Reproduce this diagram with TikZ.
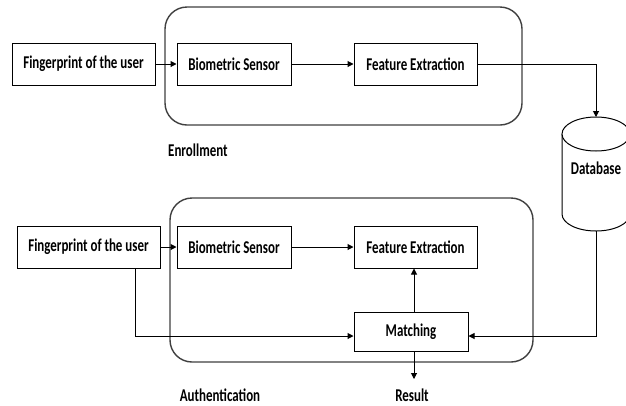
\documentclass[tikz,border=0pt]{standalone}
\usepackage{fontspec}
\usepackage{graphicx}
\setmainfont{Carlito}
\usetikzlibrary{arrows.meta}
\newcommand\lbl[1]{\scalebox{0.72}[1]{\fontsize{18}{20}\selectfont\bfseries #1}}
\tikzset{
  box/.style={draw=black, line width=1pt, minimum height=42pt, inner sep=0pt, fill=white, text=black},
  grp/.style={draw=black!75, line width=1.4pt, rounded corners=22pt},
  arr/.style={line width=1pt, -{Triangle[length=6pt,width=6pt]}},
  ln/.style={line width=1pt},
  txt/.style={inner sep=0pt, text=black}
}
\begin{document}
\begin{tikzpicture}[x=1pt,y=-1pt]
\useasboundingbox[fill=white] (0,0) rectangle (626,405);
% groups
\draw[grp] (165,7) rectangle (522,125);
\draw[grp] (170,198) rectangle (533,362);
% enrollment
\node[box, minimum width=143pt] (fp1) at (83.5,64) {\lbl{Fingerprint of the user}};
\node[box, minimum width=114pt] (bs1) at (234,64) {\lbl{Biometric Sensor}};
\node[box, minimum width=123pt] (fe1) at (415.5,64) {\lbl{Feature Extraction}};
\node[txt, anchor=west] (enr) at (168,150) {\lbl{Enrollment}};
% database
\coordinate (dbtop) at (596,117);
\coordinate (dbbot) at (596,231);
\draw[ln, fill=white] (562,134) -- (562,214) arc[start angle=180, end angle=0, x radius=34, y radius=17] -- (630,134);
\draw[ln, fill=white] (596,134) ellipse[x radius=34, y radius=17];
\node[txt] (db) at (596,168) {\lbl{Database}};
% authentication
\node[box, minimum width=143pt] (fp2) at (88.5,247) {\lbl{Fingerprint of the user}};
\node[box, minimum width=114pt] (bs2) at (234,247) {\lbl{Biometric Sensor}};
\node[box, minimum width=123pt] (fe2) at (415.5,247) {\lbl{Feature Extraction}};
\node[box, minimum width=114pt, minimum height=39pt] (mt) at (411,331.5) {\lbl{Matching}};
\node[txt] (auth) at (220,395) {\lbl{Authentication}};
\node[txt] (res) at (412,395) {\lbl{Result}};
\coordinate (c1) at (135,336);
\coordinate (c2) at (414,0);
% connectors
\draw[arr] (fp1) -- (bs1);
\draw[arr] (bs1) -- (fe1);
\draw[arr] (fe1.east) -| (dbtop);
\draw[arr] (fp2) -- (bs2);
\draw[arr] (bs2) -- (fe2);
\draw[arr] (fp2.south -| c1) |- (c1 -| mt.west);
\draw[arr] (dbbot) |- (c1 -| mt.east);
\draw[arr] (mt.north -| c2) -- (fe2.south -| c2);
\draw[arr] (mt.south -| c2) -- (414,379);
\end{tikzpicture}
\end{document}
